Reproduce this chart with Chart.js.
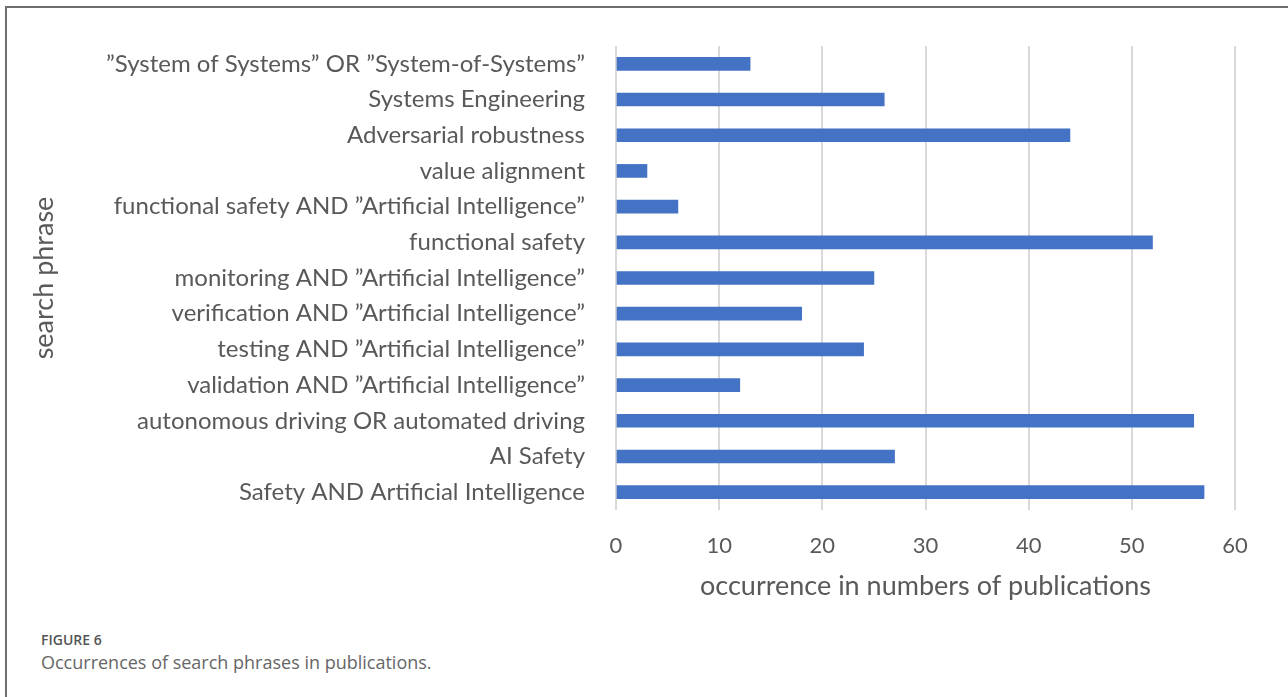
<!DOCTYPE html>
<html>
<head>
<meta charset="utf-8">
<script src="https://cdn.jsdelivr.net/npm/chart.js@4"></script>
<style>
  html, body { margin: 0; padding: 0; background: #fff; }
  body { width: 1288px; height: 697px; position: relative; overflow: hidden; }
  .frame {
    position: absolute; left: 5px; top: 6px; width: 1400px; height: 800px;
    border-top: 2px solid #6e6e6e; border-left: 2px solid #6e6e6e;
  }
  #wrap { position: absolute; left: 0; top: 0; width: 1288px; height: 602px; }
  .cap1 { position: absolute; left: 41px; top: 630px; font: 600 14px "Open Sans", sans-serif; color: #555; }
  .cap2 { position: absolute; left: 41px; top: 650px; font: 18px "Open Sans", sans-serif; color: #666; }
</style>
</head>
<body>
<div class="frame"></div>
<div id="wrap"><canvas id="chart"></canvas></div>
<div class="cap1">FIGURE 6</div>
<div class="cap2">Occurrences of search phrases in publications.</div>
<script>
// search phrases, top to bottom as shown
const phrases = [
    "\u201DSystem of Systems\u201D OR \u201DSystem-of-Systems\u201D",
    "Systems Engineering",
    "Adversarial robustness",
    "value alignment",
    "functional safety AND \u201DArtificial Intelligence\u201D",
    "functional safety",
    "monitoring AND \u201DArtificial Intelligence\u201D",
    "verification AND \u201DArtificial Intelligence\u201D",
    "testing AND \u201DArtificial Intelligence\u201D",
    "validation AND \u201DArtificial Intelligence\u201D",
    "autonomous driving OR automated driving",
    "AI Safety",
    "Safety AND Artificial Intelligence"
];
const occurrences = [13, 26, 44, 3, 6, 52, 25, 18, 24, 12, 56, 27, 57];
const xTicks = [0, 10, 20, 30, 40, 50, 60];

const labelFont = "Lato";
const textColor = "#595959";

new Chart(document.getElementById("chart"), {
    type: "bar",
    data: {
        labels: phrases,
        datasets: [{
            label: "occurrences",
            data: occurrences,
            backgroundColor: "#4472C4",
            barThickness: 13
        }]
    },
    options: {
        indexAxis: "y",
        responsive: true,
        maintainAspectRatio: false,
        animation: false,
        layout: { padding: { top: 46, right: 53, left: 28, bottom: 0 } },
        plugins: { legend: { display: false }, tooltip: { enabled: false } },
        scales: {
            x: {
                min: xTicks[0],
                max: xTicks[xTicks.length - 1],
                afterBuildTicks: function (scale) {
                    scale.ticks = xTicks.map(v => ({ value: v }));
                },
                grid: { color: "#d9d9d9", lineWidth: 2, drawTicks: false },
                border: { display: false },
                ticks: { color: textColor, padding: 23, font: { family: labelFont, size: 22 } },
                title: {
                    display: true,
                    text: "occurrence in numbers of publications",
                    color: textColor,
                    padding: 0,
                    font: { family: labelFont, size: 27 }
                },
                afterFit: function (scale) { scale.height = 92; }
            },
            y: {
                grid: { display: false },
                border: { display: false },
                ticks: { color: textColor, padding: 23, font: { family: labelFont, size: 24 } },
                title: {
                    display: true,
                    text: "search phrase",
                    color: textColor,
                    padding: 0,
                    font: { family: labelFont, size: 27 }
                },
                afterFit: function (scale) { scale.width = 616 - 28; }
            }
        }
    }
});
</script>
</body>
</html>
